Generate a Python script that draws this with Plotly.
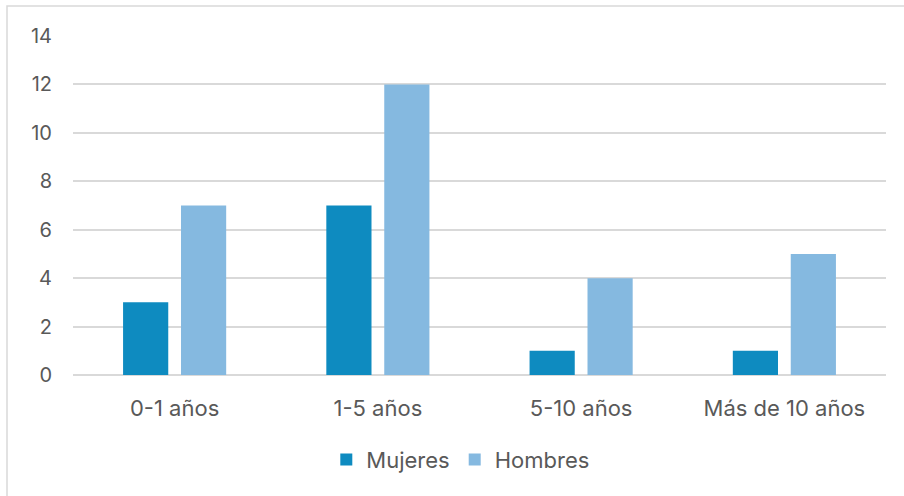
import plotly.graph_objects as go

categorias = ["0-1 años", "1-5 años", "5-10 años", "Más de 10 años"]
mujeres = [3, 7, 1, 1]
hombres = [7, 12, 4, 5]
y_ticks = [0, 2, 4, 6, 8, 10, 12, 14]

COLOR_MUJERES = "#0E8BC0"
COLOR_HOMBRES = "#85B9E0"
TEXT = "#595959"
GRID = "#D9D9D9"
FONT = "Inter, Roboto, 'Open Sans', sans-serif"

fig = go.Figure()
fig.add_trace(go.Bar(name="Mujeres", x=categorias, y=mujeres,
                     marker=dict(color=COLOR_MUJERES, line=dict(width=0))))
fig.add_trace(go.Bar(name="Hombres", x=categorias, y=hombres,
                     marker=dict(color=COLOR_HOMBRES, line=dict(width=0))))

fig.update_layout(
    width=904, height=496,
    margin=dict(l=73, r=18, t=36, b=121),
    paper_bgcolor="white", plot_bgcolor="white",
    barmode="group", bargap=0.43, bargroupgap=0.22,
    font=dict(family=FONT, size=20, color=TEXT),
    showlegend=True,
    legend=dict(orientation="h", x=0.477, xanchor="center", y=-0.25, yanchor="middle",
                font=dict(size=22, color=TEXT), itemwidth=30, traceorder="normal"),
    xaxis=dict(showgrid=False, showline=False, ticks="", ticklabelstandoff=18,
               tickfont=dict(size=22, color=TEXT)),
    yaxis=dict(range=[0, 14], tickvals=y_ticks, showgrid=True, gridcolor=GRID, gridwidth=1.5,
               zeroline=True, zerolinecolor=GRID, zerolinewidth=1.5, showline=False,
               ticks="", ticklabelstandoff=20, tickfont=dict(size=20, color=TEXT)),
    shapes=[dict(type="rect", xref="paper", yref="paper",
                 x0=-73/813 + 7/813, x1=1.1, y0=-0.5, y1=1 + 30/339,
                 line=dict(color="#D9D9D9", width=1.5), fillcolor="rgba(0,0,0,0)", layer="below")],
)

fig.write_html("out.html")
